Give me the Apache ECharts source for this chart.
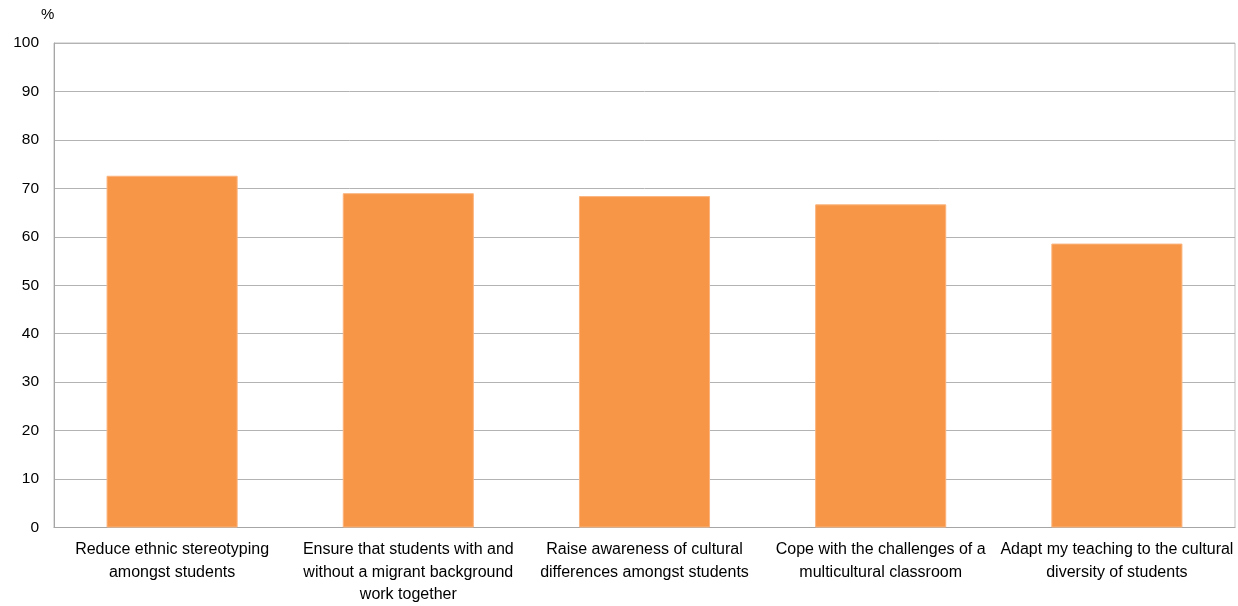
<!DOCTYPE html>
<html>
<head>
<meta charset="utf-8">
<script src="https://cdn.jsdelivr.net/npm/echarts@6/dist/echarts.min.js"></script>
<style>html,body{margin:0;padding:0;background:#fff;overflow:hidden}#c{width:1238px;height:606px}</style>
</head>
<body>
<div id="c"></div>
<script>
const categories = [
  "Reduce ethnic stereotyping\namongst students",
  "Ensure that students with and\nwithout a migrant background\nwork together",
  "Raise awareness of cultural\ndifferences amongst students",
  "Cope with the challenges of a\nmulticultural classroom",
  "Adapt my teaching to the cultural\ndiversity of students"
];
const values = [72.6, 69.0, 68.4, 66.7, 58.6];
const yUnit = "%";

const chart = echarts.init(document.getElementById('c'), null, {renderer: 'canvas'});
const font = "'Liberation Sans', Arial, sans-serif";
chart.setOption({
  animation: false,
  title: {
    text: yUnit, left: 41, top: 7, padding: 0,
    textStyle: {fontFamily: font, fontSize: 15, fontWeight: 'normal', color: '#000'}
  },
  grid: {
    left: 54, right: 3, top: 43, bottom: 73.5,
    show: true, borderColor: '#bfbfbf', borderWidth: 1, backgroundColor: 'transparent'
  },
  xAxis: {
    type: 'category',
    data: categories,
    axisLine: {lineStyle: {color: '#a6a6a6', width: 1}},
    axisTick: {show: false},
    axisLabel: {
      interval: 0, margin: 11, color: '#000',
      fontFamily: font, fontSize: 16, lineHeight: 22.5
    }
  },
  yAxis: {
    type: 'value', min: 0, max: 100, interval: 10,
    axisLine: {show: true, lineStyle: {color: '#a6a6a6', width: 1}},
    axisTick: {show: false},
    splitLine: {lineStyle: {color: '#b3b3b3', width: 1}},
    axisLabel: {margin: 15, color: '#000', fontFamily: font, fontSize: 15.5}
  },
  series: [{
    type: 'bar',
    data: values,
    barWidth: '55.5%',
    itemStyle: {color: '#F79646', borderColor: '#fbb47e', borderWidth: 1}
  }]
});
</script>
</body>
</html>
